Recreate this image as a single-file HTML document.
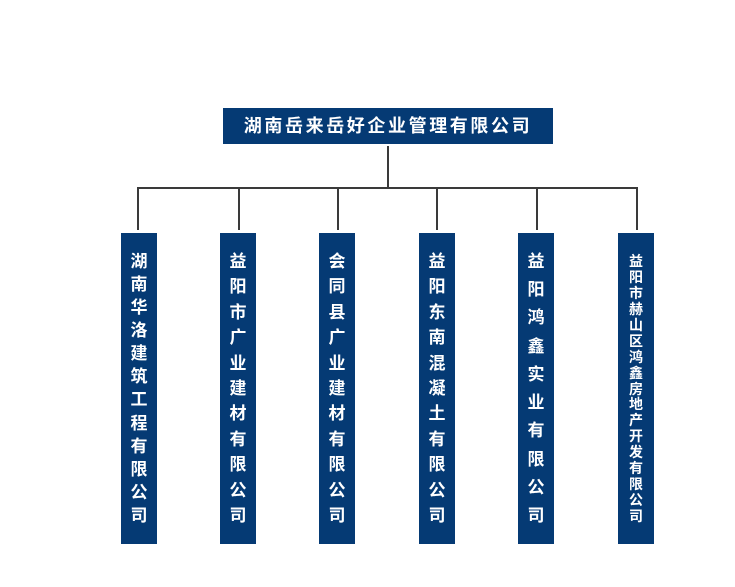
<!DOCTYPE html>
<html><head><meta charset="utf-8"><style>
body{margin:0;width:735px;height:587px;background:#fff;position:relative;overflow:hidden;font-family:"Liberation Sans","Noto Sans CJK SC",sans-serif;}
.b{position:absolute;background:#053a74;color:#fff;font-weight:bold;}
.top{left:223px;top:108px;width:330px;height:36px;font-size:18px;line-height:36px;text-align:center;letter-spacing:2.6px;}
.v{top:233px;width:36px;height:311px;}
.col{position:absolute;left:0;width:36px;top:20px;height:272px;display:flex;flex-direction:column;justify-content:space-between;align-items:center;font-size:17px;line-height:18px;}
.small{font-size:14px;line-height:15px;top:21px;height:270px;}
.l{position:absolute;background:#3a3a3a;}
</style></head><body>
<div class="b top">湖南岳来岳好企业管理有限公司</div>
<div class="l" style="left:387px;top:146px;width:2px;height:43px"></div>
<div class="l" style="left:137px;top:187px;width:501px;height:2px"></div>
<div class="l" style="left:137px;top:187px;width:2px;height:43px"></div>
<div class="l" style="left:238px;top:187px;width:2px;height:43px"></div>
<div class="l" style="left:337px;top:187px;width:2px;height:43px"></div>
<div class="l" style="left:436px;top:187px;width:2px;height:43px"></div>
<div class="l" style="left:536px;top:187px;width:2px;height:43px"></div>
<div class="l" style="left:636px;top:187px;width:2px;height:43px"></div>

<div class="b v" style="left:121px"><div class="col"><span>湖</span><span>南</span><span>华</span><span>洛</span><span>建</span><span>筑</span><span>工</span><span>程</span><span>有</span><span>限</span><span>公</span><span>司</span></div></div>
<div class="b v" style="left:220px"><div class="col"><span>益</span><span>阳</span><span>市</span><span>广</span><span>业</span><span>建</span><span>材</span><span>有</span><span>限</span><span>公</span><span>司</span></div></div>
<div class="b v" style="left:319px"><div class="col"><span>会</span><span>同</span><span>县</span><span>广</span><span>业</span><span>建</span><span>材</span><span>有</span><span>限</span><span>公</span><span>司</span></div></div>
<div class="b v" style="left:419px"><div class="col"><span>益</span><span>阳</span><span>东</span><span>南</span><span>混</span><span>凝</span><span>土</span><span>有</span><span>限</span><span>公</span><span>司</span></div></div>
<div class="b v" style="left:518px"><div class="col"><span>益</span><span>阳</span><span>鸿</span><span>鑫</span><span>实</span><span>业</span><span>有</span><span>限</span><span>公</span><span>司</span></div></div>
<div class="b v" style="left:618px"><div class="col small"><span>益</span><span>阳</span><span>市</span><span>赫</span><span>山</span><span>区</span><span>鸿</span><span>鑫</span><span>房</span><span>地</span><span>产</span><span>开</span><span>发</span><span>有</span><span>限</span><span>公</span><span>司</span></div></div>
</body></html>
